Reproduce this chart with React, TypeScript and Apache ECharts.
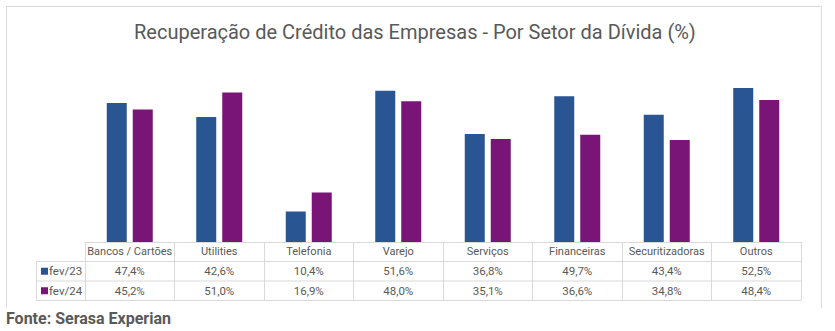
import React, { useEffect, useRef } from "react";
import * as echarts from "echarts";

const TITLE = "Recuperação de Crédito das Empresas - Por Setor da Dívida (%)";
const SOURCE = "Fonte: Serasa Experian";
const categories = [
  "Bancos / Cartões",
  "Utilities",
  "Telefonia",
  "Varejo",
  "Serviços",
  "Financeiras",
  "Securitizadoras",
  "Outros",
];
const seriesNames = ["fev/23", "fev/24"];
const fev23 = [47.4, 42.6, 10.4, 51.6, 36.8, 49.7, 43.4, 52.5];
const fev24 = [45.2, 51.0, 16.9, 48.0, 35.1, 36.6, 34.8, 48.4];
const colors = ["#2a5593", "#781577"];

const fmt = (v: number) => v.toFixed(1).replace(".", ",") + "%";

export default function App() {
  const ref = useRef<HTMLDivElement>(null);
  useEffect(() => {
    if (!ref.current) return;
    const chart = echarts.init(ref.current, undefined, { renderer: "svg" });
    const gridLeft = 85;
    const gridRight = 801;
    const baseY = 242;
    const rowH = 19.5;
    const tableLeft = 36;
    const border = "#d9d9d9";
    const textColor = "#595959";
    const font = "Roboto, 'Noto Sans', sans-serif";

    const graphic: any[] = [
      // outer frame
      { type: "line", shape: { x1: 6.5, y1: 6.5, x2: 821.5, y2: 6.5 }, style: { stroke: border, lineWidth: 1 } },
      { type: "line", shape: { x1: 6.5, y1: 6.5, x2: 6.5, y2: 308 }, style: { stroke: border, lineWidth: 1 } },
      { type: "line", shape: { x1: 821.5, y1: 6.5, x2: 821.5, y2: 308 }, style: { stroke: border, lineWidth: 1 } },
      // table horizontal lines
      ...[1, 2, 3].map((i) => ({
        type: "line",
        shape: { x1: tableLeft, y1: baseY + i * rowH, x2: gridRight, y2: baseY + i * rowH },
        style: { stroke: border, lineWidth: 1 },
      })),
      {
        type: "line",
        shape: { x1: tableLeft + 0.5, y1: baseY + rowH, x2: tableLeft + 0.5, y2: baseY + 3 * rowH },
        style: { stroke: border, lineWidth: 1 },
      },
      // legend keys in table
      ...seriesNames.flatMap((name, i) => [
        {
          type: "rect",
          shape: { x: 41, y: baseY + (i + 1.5) * rowH - 3.5, width: 7, height: 7 },
          style: { fill: colors[i] },
        },
        {
          type: "text",
          x: 49,
          y: baseY + (i + 1.5) * rowH,
          style: { text: name, fill: textColor, font: `11.5px ${font}`, verticalAlign: "middle" },
        },
      ]),
      {
        type: "text",
        x: 6,
        y: 318,
        style: { text: SOURCE, fill: textColor, font: `bold 16px ${font}`, verticalAlign: "middle" },
      },
    ];

    chart.setOption({
      animation: false,
      title: {
        text: TITLE,
        left: 129,
        top: 17,
        textStyle: { fontFamily: font, fontSize: 20, fontWeight: "normal", color: textColor },
      },
      grid: { left: gridLeft, right: 835 - gridRight, top: 66, bottom: 331 - baseY },
      xAxis: {
        type: "category",
        data: categories,
        axisLine: { show: true, lineStyle: { color: border } },
        axisTick: { show: true, length: rowH * 3, lineStyle: { color: border } },
        axisLabel: {
          interval: 0,
          margin: 0,
          formatter: (value: string, idx: number) =>
            `{c|${value}}\n{v|${fmt(fev23[idx])}}\n{v|${fmt(fev24[idx])}}`,
          rich: {
            c: { fontFamily: font, fontSize: 11, color: textColor, lineHeight: rowH, align: "center" },
            v: { fontFamily: font, fontSize: 11.5, color: textColor, lineHeight: rowH, align: "center" },
          },
        },
      },
      yAxis: {
        type: "value",
        min: 0,
        max: 60,
        show: false,
        splitLine: { show: false },
      },
      series: [
        {
          name: seriesNames[0],
          type: "bar",
          data: fev23,
          barWidth: 20,
          barGap: "30%",
          itemStyle: { color: colors[0] },
        },
        {
          name: seriesNames[1],
          type: "bar",
          data: fev24,
          barWidth: 20,
          barGap: "30%",
          itemStyle: { color: colors[1] },
        },
      ],
      graphic,
    });
    return () => chart.dispose();
  }, []);
  return (
    <div
      ref={ref}
      style={{ position: "fixed", left: 0, top: 0, width: 835, height: 331, background: "#fff" }}
    />
  );
}
